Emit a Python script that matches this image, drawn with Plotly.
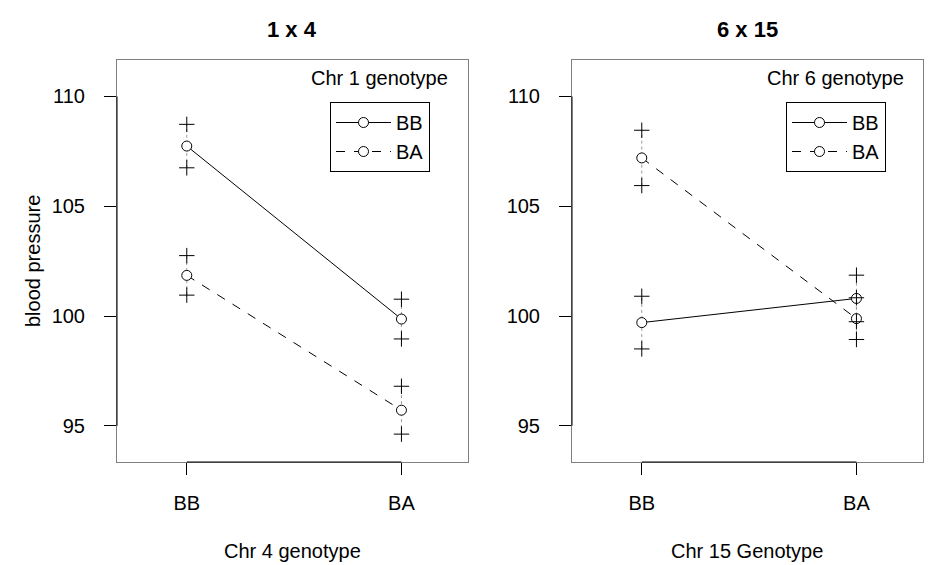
import plotly.graph_objects as go

categories = ["BB", "BA"]
xpos = [1, 2]

# Panel 1: 1 x 4 (Chr 4 genotype on x, Chr 1 genotype as lines)
p1_bb_mean = [107.74, 99.86]
p1_bb_se = [0.99, 0.905]
p1_ba_mean = [101.85, 95.71]
p1_ba_se = [0.90, 1.09]

# Panel 2: 6 x 15 (Chr 15 genotype on x, Chr 6 genotype as lines)
p2_bb_mean = [99.70, 100.80]
p2_bb_se = [1.20, 1.06]
p2_ba_mean = [107.20, 99.88]
p2_ba_se = [1.26, 0.95]

yticks = [95, 100, 105, 110]
FONT = "Liberation Sans, Arial, sans-serif"
FS = 20

fig = go.Figure()


def add_panel(xa, ya, means, ses, names, dashes, legend, show):
    for m, s in zip(means, ses):
        ex, ey = [], []
        for xi, mi, si in zip(xpos, m, s):
            ex += [xi, xi, None]
            ey += [mi - si, mi + si, None]
        fig.add_trace(go.Scatter(x=ex, y=ey, mode="lines", xaxis=xa, yaxis=ya,
                                 line=dict(color="#999999", width=1, dash="dot"),
                                 showlegend=False, hoverinfo="skip"))
    for m, nm, d in zip(means, names, dashes):
        fig.add_trace(go.Scatter(x=xpos, y=m, mode="lines+markers", name=nm,
                                 xaxis=xa, yaxis=ya, legend=legend, showlegend=show,
                                 legendgroup=legend + nm,
                                 line=dict(color="black", width=1, dash=d),
                                 marker=dict(symbol="circle", size=10, color="white",
                                             line=dict(color="black", width=1))))
    for m, s in zip(means, ses):
        cx, cy = [], []
        for xi, mi, si in zip(xpos, m, s):
            cx += [xi, xi]
            cy += [mi - si, mi + si]
        fig.add_trace(go.Scatter(x=cx, y=cy, mode="markers", xaxis=xa, yaxis=ya,
                                 marker=dict(symbol="cross-thin", size=11,
                                             line=dict(color="black", width=1)),
                                 showlegend=False, hoverinfo="skip"))


add_panel("x", "y", [p1_bb_mean, p1_ba_mean], [p1_bb_se, p1_ba_se],
          categories, ["solid", "dash"], "legend", True)
add_panel("x2", "y2", [p2_bb_mean, p2_ba_mean], [p2_bb_se, p2_ba_se],
          categories, ["solid", "dash"], "legend2", True)

ydom = [1 - 462 / 565, 1 - 60 / 565]
xdom1 = [117 / 933, 468 / 933]
xdom2 = [572 / 933, 923 / 933]

xcommon = dict(range=[0.675, 2.31], tickvals=xpos, ticktext=categories,
               showline=True, mirror=True, linecolor="#808080", linewidth=1,
               ticks="outside", ticklen=12, tickcolor="black", showgrid=False,
               zeroline=False, ticklabelstandoff=11,
               tickfont=dict(family=FONT, size=FS, color="black"))
ycommon = dict(range=[93.35, 111.66], tickvals=yticks,
               showline=True, mirror=True, linecolor="#808080", linewidth=1,
               ticks="outside", ticklen=12, tickcolor="black", showgrid=False,
               zeroline=False, ticklabelstandoff=15,
               tickfont=dict(family=FONT, size=FS, color="black"))

legcommon = dict(bgcolor="white", bordercolor="black", borderwidth=1,
                 font=dict(family=FONT, size=FS, color="black"),
                 xanchor="left", yanchor="top", traceorder="grouped",
                 tracegroupgap=0, itemclick=False, itemwidth=55)

fig.update_layout(
    width=933, height=565,
    margin=dict(l=0, r=0, t=0, b=0),
    paper_bgcolor="white", plot_bgcolor="white",
    showlegend=True,
    xaxis=dict(domain=xdom1, anchor="y", **xcommon),
    yaxis=dict(domain=ydom, anchor="x", **ycommon),
    xaxis2=dict(domain=xdom2, anchor="y2", **xcommon),
    yaxis2=dict(domain=ydom, anchor="x2", **ycommon),
    legend=dict(x=330 / 933, y=1 - 102 / 565, **legcommon),
    legend2=dict(x=786 / 933, y=1 - 102 / 565, **legcommon),
)

# black axis segments between first and last ticks (R style axis)
for xr, yr in [("x", "y"), ("x2", "y2")]:
    fig.add_shape(type="line", xref=xr, yref=yr + " domain", x0=1, x1=2, y0=0, y1=0,
                  line=dict(color="black", width=1))
    fig.add_shape(type="line", xref=xr + " domain", yref=yr, x0=0, x1=0, y0=95, y1=110,
                  line=dict(color="black", width=1))

ann = [
    ("<b>1 x 4</b>", 292, 30, 22),
    ("<b>6 x 15</b>", 747, 30, 22),
    ("Chr 4 genotype", 292, 551, FS),
    ("Chr 15 Genotype", 747, 551, FS),
    ("Chr 1 genotype", 379, 78, FS),
    ("Chr 6 genotype", 835, 78, FS),
]
for t, px, py, fs in ann:
    fig.add_annotation(text=t, x=px / 933, y=1 - py / 565, xref="paper", yref="paper",
                       showarrow=False, xanchor="center", yanchor="middle",
                       font=dict(family=FONT, size=fs, color="black"))
fig.add_annotation(text="blood pressure", x=33 / 933, y=1 - 261 / 565, xref="paper",
                   yref="paper", showarrow=False, textangle=-90,
                   xanchor="center", yanchor="middle",
                   font=dict(family=FONT, size=FS, color="black"))

fig.write_html("out.html", config={"displayModeBar": False},
               post_script="document.body.style.margin='0';document.body.style.overflow='hidden';")
